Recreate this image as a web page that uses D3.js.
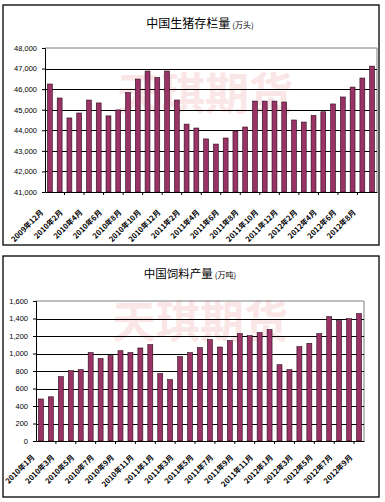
<!DOCTYPE html>
<html>
<head>
<meta charset="utf-8">
<script src="https://cdn.jsdelivr.net/npm/d3@7"></script>
<style>
  body { margin: 0; background: #fff; }
  svg { display: block; }
  .ytick text { font-family: "Liberation Sans", sans-serif; font-size: 7.5px; fill: #000; }
  .xlab { font-family: "Noto Sans CJK SC", sans-serif; font-size: 7.5px; font-weight: bold; fill: #000; }
</style>
</head>
<body>
<div id="chart"></div>
<script>
// 中国生猪存栏量 2009年12月 - 2012年9月 (万头)
var pigMonths = ["2009年12月", "2010年1月", "2010年2月", "2010年3月", "2010年4月", "2010年5月",
    "2010年6月", "2010年7月", "2010年8月", "2010年9月", "2010年10月", "2010年11月", "2010年12月",
    "2011年1月", "2011年2月", "2011年3月", "2011年4月", "2011年5月", "2011年6月", "2011年7月",
    "2011年8月", "2011年9月", "2011年10月", "2011年11月", "2011年12月", "2012年1月", "2012年2月",
    "2012年3月", "2012年4月", "2012年5月", "2012年6月", "2012年7月", "2012年8月", "2012年9月"];
var pigStock = [46250, 45570, 44600, 44840, 45470, 45330, 44700, 44990, 45830, 46490, 46880, 46560,
    46880, 45470, 44300, 44110, 43580, 43330, 43625, 43965, 44160, 45420, 45420, 45420, 45375,
    44500, 44400, 44720, 44900, 45280, 45620, 46100, 46540, 47120];
var pigTicks = [41000, 42000, 43000, 44000, 45000, 46000, 47000, 48000];

// 中国饲料产量 2010年1月 - 2012年9月 (万吨)
var feedMonths = ["2010年1月", "2010年2月", "2010年3月", "2010年4月", "2010年5月", "2010年6月",
    "2010年7月", "2010年8月", "2010年9月", "2010年10月", "2010年11月", "2010年12月",
    "2011年1月", "2011年2月", "2011年3月", "2011年4月", "2011年5月", "2011年6月",
    "2011年7月", "2011年8月", "2011年9月", "2011年10月", "2011年11月", "2011年12月",
    "2012年1月", "2012年2月", "2012年3月", "2012年4月", "2012年5月", "2012年6月",
    "2012年7月", "2012年8月", "2012年9月"];
var feedOutput = [480, 505, 735, 804, 815, 1010, 941, 975, 1032, 1010, 1063, 1101,
    770, 701, 964, 1010, 1067, 1158, 1074, 1147, 1227, 1204, 1238, 1273,
    872, 815, 1078, 1116, 1227, 1421, 1375, 1398, 1455];
var feedTicks = [0, 200, 400, 600, 800, 1000, 1200, 1400, 1600];

var svg = d3.select("#chart").append("svg")
    .attr("width", 385)
    .attr("height", 502);

var fmt = d3.format(",");

function panel(opt) {
    var g = svg.append("g");

    g.append("rect")
        .attr("x", opt.box[0]).attr("y", opt.box[1])
        .attr("width", opt.box[2]).attr("height", opt.box[3])
        .attr("fill", "#fff").attr("stroke", "#000").attr("stroke-width", 1.3);

    // faint watermark
    g.append("text")
        .attr("x", opt.wm[0]).attr("y", opt.wm[1])
        .attr("text-anchor", "middle")
        .style("font-family", "Noto Sans CJK SC").style("font-size", "44px").style("font-weight", "bold")
        .attr("fill", "#fae6e6")
        .text("天琪期货");

    var t = g.append("text")
        .attr("x", opt.titleX).attr("y", opt.titleY)
        .attr("text-anchor", "middle")
        .style("font-family", "Noto Sans CJK SC");
    t.append("tspan").style("font-size", opt.titleSize + "px").text(opt.title);
    t.append("tspan").style("font-size", "8px").attr("dx", 2).text(opt.unit);

    var x = d3.scaleBand()
        .domain(opt.cats)
        .range([opt.left, opt.right])
        .paddingInner(0.5)
        .paddingOuter(0.25);

    var y = d3.scaleLinear()
        .domain([opt.ticks[0], opt.ticks[opt.ticks.length - 1]])
        .range([opt.bottom, opt.top]);

    // plot frame
    g.append("path")
        .attr("d", "M" + opt.left + "," + opt.top + "H" + opt.right + "V" + opt.bottom)
        .attr("fill", "none").attr("stroke", "#808080").attr("stroke-width", 1);

    // gridlines
    g.selectAll(".grid")
        .data(opt.ticks.slice(1, -1))
        .enter().append("line")
        .attr("x1", opt.left).attr("x2", opt.right)
        .attr("y1", function(d) { return Math.round(y(d)) + 0.5; })
        .attr("y2", function(d) { return Math.round(y(d)) + 0.5; })
        .attr("stroke", "#000");

    g.selectAll(".bar")
        .data(opt.values)
        .enter().append("rect")
        .attr("x", function(d, i) { return x(opt.cats[i]); })
        .attr("y", function(d) { return y(d); })
        .attr("width", x.bandwidth())
        .attr("height", function(d) { return opt.bottom - y(d); })
        .attr("fill", "#993366")
        .attr("stroke", "#2a0a1a")
        .attr("stroke-width", 0.6);

    var yAxis = g.append("g")
        .attr("class", "ytick")
        .attr("transform", "translate(" + opt.left + ",0)")
        .call(d3.axisLeft(y).tickValues(opt.ticks).tickFormat(fmt).tickSize(3).tickPadding(opt.yPad));
    yAxis.selectAll("path, line").attr("stroke", "#000");

    var xAxis = g.append("g")
        .attr("transform", "translate(0," + opt.bottom + ")")
        .call(d3.axisBottom(x).tickValues([]).tickSizeOuter(0));
    xAxis.select("path").attr("stroke", "#000");

    // small ticks between categories
    g.selectAll(".xt")
        .data(opt.cats.filter(function(d, i) { return i > 0 && i % 2 === 0; }))
        .enter().append("line")
        .attr("x1", function(d) { return x(d) - x.step() * x.paddingInner() / 2; })
        .attr("x2", function(d) { return x(d) - x.step() * x.paddingInner() / 2; })
        .attr("y1", opt.bottom).attr("y2", opt.bottom + 3)
        .attr("stroke", "#000");

    g.selectAll(".xlab")
        .data(opt.cats.filter(function(d, i) { return i % 2 === 0; }))
        .enter().append("text")
        .attr("class", "xlab")
        .attr("text-anchor", "end")
        .attr("transform", function(d) {
            return "translate(" + (x(d) + x.bandwidth() / 2 - 6) + "," + (opt.bottom + opt.labOff) + ")rotate(-45)";
        })
        .text(function(d) { return d; });
}

panel({
    box: [3, 5, 376, 240],
    wm: [205, 110],
    title: "中国生猪存栏量", unit: "(万头)", titleSize: 12, titleX: 200, titleY: 28,
    cats: pigMonths, values: pigStock, ticks: pigTicks,
    left: 45, right: 377, top: 48, bottom: 192,
    yPad: 5, labOff: 21
});

panel({
    box: [3, 256, 376, 241],
    wm: [200, 338],
    title: "中国饲料产量", unit: "(万吨)", titleSize: 11.5, titleX: 190, titleY: 278,
    cats: feedMonths, values: feedOutput, ticks: feedTicks,
    left: 36, right: 364, top: 301, bottom: 441,
    yPad: 5, labOff: 17
});
</script>
</body>
</html>
